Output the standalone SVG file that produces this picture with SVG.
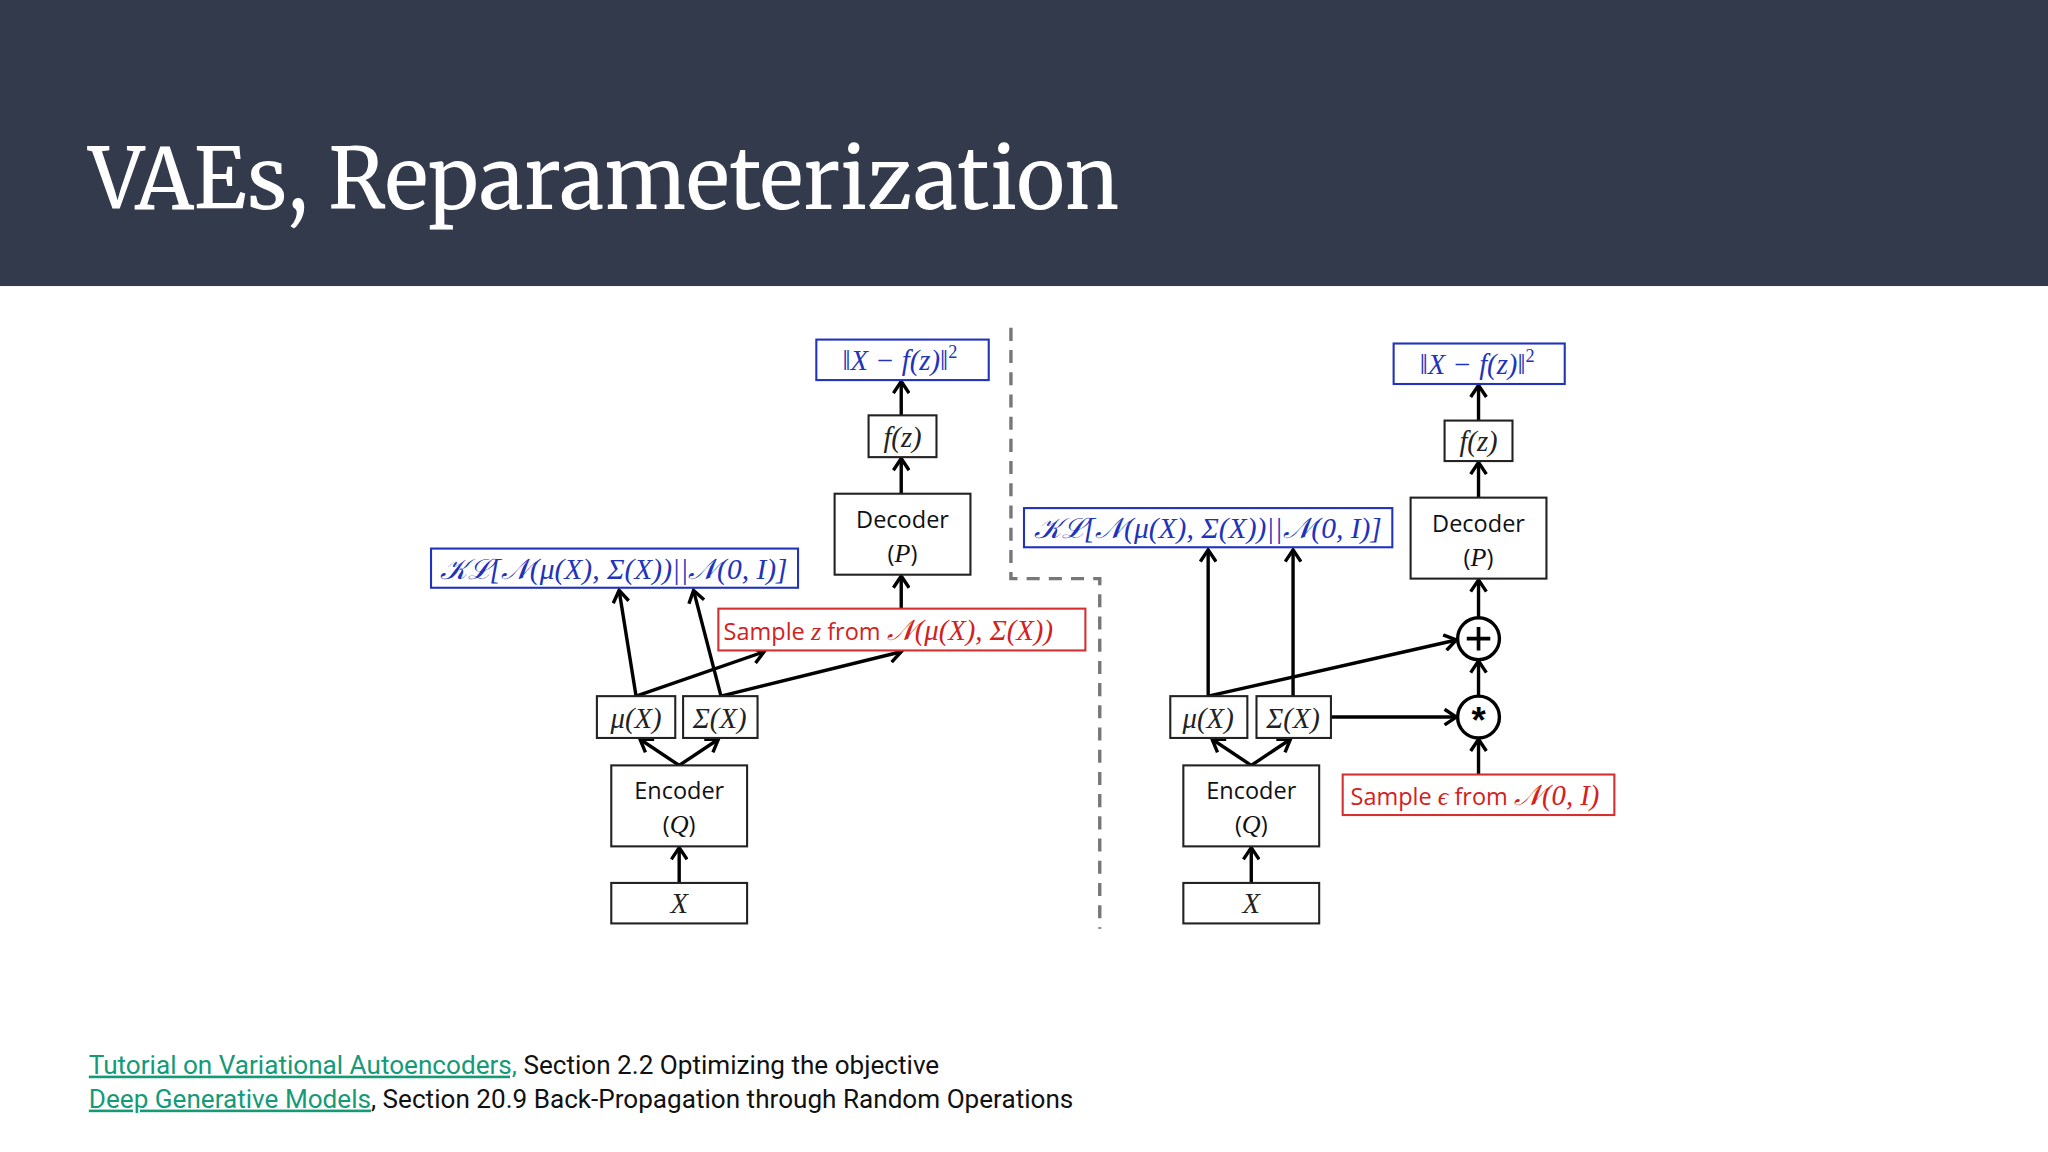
<svg xmlns="http://www.w3.org/2000/svg" width="2048" height="1152" viewBox="0 0 2048 1152">
<defs>
<marker id="ah" viewBox="-10 -7 12 14" markerWidth="12" markerHeight="14" refX="0" refY="0" orient="auto" markerUnits="userSpaceOnUse">
<path d="M-9,-6 L0,0 L-9,6" fill="none" stroke="#000" stroke-width="2.6"/>
</marker>
<style>
.bx{fill:#fff;stroke:#222;stroke-width:1.6}
.bb{fill:#fff;stroke:#2233bb;stroke-width:1.6}
.rb{fill:#fff;stroke:#d43030;stroke-width:1.6}
.m{font-family:"Liberation Serif",serif;font-style:italic;font-size:22px;fill:#222;text-anchor:middle}
.mb{fill:#2233bb}
.mr{fill:#d42020}
.s{font-family:"Open Sans","Liberation Sans",sans-serif;font-size:18px;fill:#111;text-anchor:middle}
.c line{stroke:#000;stroke-width:2.6;marker-end:url(#ah)}
.dash{fill:none;stroke:#777;stroke-width:2.6;stroke-dasharray:10,7}
.ft{font-family:Roboto,"Liberation Sans",sans-serif;font-size:20px;fill:#111}
.lk{fill:#159a78;text-decoration:underline}
</style>
</defs>
<rect width="2048" height="1152" fill="#fff"/>
<g transform="scale(1.30612)">
<rect width="1568" height="219" fill="#333a4c"/>
<text x="68" y="160" font-family="Merriweather,'Liberation Serif',serif" font-size="64" fill="#fff" textLength="789" lengthAdjust="spacingAndGlyphs">VAEs, Reparameterization</text>

<path class="dash" d="M774,251 V443 H842 V711"/>

<g class="c" id="connectors">
<line x1="520" y1="676" x2="520" y2="649"/>
<line x1="520" y1="586" x2="490" y2="566"/>
<line x1="520" y1="586" x2="550" y2="566"/>
<line x1="487" y1="533" x2="474" y2="452"/>
<line x1="487" y1="533" x2="585" y2="499"/>
<line x1="552" y1="533" x2="531" y2="452"/>
<line x1="552" y1="533" x2="690" y2="499"/>
<line x1="690" y1="466" x2="690" y2="441"/>
<line x1="690" y1="378" x2="690" y2="351"/>
<line x1="690" y1="318" x2="690" y2="292"/>

<line x1="958" y1="676" x2="958" y2="649"/>
<line x1="958" y1="586" x2="928" y2="566"/>
<line x1="958" y1="586" x2="988" y2="566"/>
<line x1="925" y1="533" x2="925" y2="421"/>
<line x1="925" y1="533" x2="1115" y2="490"/>
<line x1="990" y1="533" x2="990" y2="421"/>
<line x1="1019" y1="549" x2="1115" y2="549"/>
<line x1="1132" y1="593" x2="1132" y2="566"/>
<line x1="1132" y1="533" x2="1132" y2="506"/>
<line x1="1132" y1="473" x2="1132" y2="444"/>
<line x1="1132" y1="381" x2="1132" y2="354"/>
<line x1="1132" y1="322" x2="1132" y2="295"/>
</g>

<g id="L-loss"><rect class="bb" x="625" y="260" width="132" height="31"/><text class="m mb" x="689" y="283">‖X − f(z)‖<tspan font-style="normal" font-size="14" dy="-9">2</tspan></text></g>
<g id="L-fz"><rect class="bx" x="665" y="318" width="52" height="32"/><text class="m" x="691" y="342">f(z)</text></g>
<g id="L-dec"><rect class="bx" x="639" y="378" width="104" height="62"/><text class="s" x="691" y="404">Decoder</text><text class="s" x="691" y="430">(<tspan font-family="Liberation Serif" font-style="italic" font-size="20">P</tspan>)</text></g>
<g id="L-kl"><rect class="bb" x="330" y="420" width="281" height="30"/><text class="m mb" x="470" y="443" textLength="266" lengthAdjust="spacingAndGlyphs">𝒦ℒ[𝒩(μ(X), Σ(X))||𝒩(0, I)]</text></g>
<g id="L-sample"><rect class="rb" x="550" y="466" width="281" height="32"/><text x="554" y="490" font-family="'Open Sans','Liberation Sans',sans-serif" font-size="18" fill="#d42020">Sample <tspan font-family="Liberation Serif" font-style="italic" font-size="20">z</tspan> from <tspan font-family="Liberation Serif" font-style="italic" font-size="22">𝒩(μ(X), Σ(X))</tspan></text></g>
<g id="L-mu"><rect class="bx" x="457" y="533" width="60" height="32"/><text class="m" x="487" y="557">μ(X)</text></g>
<g id="L-sig"><rect class="bx" x="523" y="533" width="57" height="32"/><text class="m" x="551" y="557">Σ(X)</text></g>
<g id="L-enc"><rect class="bx" x="468" y="586" width="104" height="62"/><text class="s" x="520" y="612">Encoder</text><text class="s" x="520" y="638">(<tspan font-family="Liberation Serif" font-style="italic" font-size="20">Q</tspan>)</text></g>
<g id="L-x"><rect class="bx" x="468" y="676" width="104" height="31"/><text class="m" x="520" y="699">X</text></g>

<g id="R-loss"><rect class="bb" x="1067" y="263" width="131" height="31"/><text class="m mb" x="1131" y="286">‖X − f(z)‖<tspan font-style="normal" font-size="14" dy="-9">2</tspan></text></g>
<g id="R-fz"><rect class="bx" x="1106" y="322" width="52" height="31"/><text class="m" x="1132" y="345">f(z)</text></g>
<g id="R-dec"><rect class="bx" x="1080" y="381" width="104" height="62"/><text class="s" x="1132" y="407">Decoder</text><text class="s" x="1132" y="433">(<tspan font-family="Liberation Serif" font-style="italic" font-size="20">P</tspan>)</text></g>
<g id="R-kl"><rect class="bb" x="784" y="389" width="282" height="30"/><text class="m mb" x="925" y="412" textLength="266" lengthAdjust="spacingAndGlyphs">𝒦ℒ[𝒩(μ(X), Σ(X))||𝒩(0, I)]</text></g>
<g id="R-plus"><circle cx="1132" cy="489" r="16" fill="#fff" stroke="#000" stroke-width="2.6"/><path d="M1132,480 V498 M1123,489 H1141" stroke="#000" stroke-width="2.8"/></g>
<g id="R-star"><circle cx="1132" cy="549" r="16" fill="#fff" stroke="#000" stroke-width="2.6"/><text x="1132" y="561" font-family="'Liberation Sans',sans-serif" font-weight="bold" font-size="28" text-anchor="middle">*</text></g>
<g id="R-mu"><rect class="bx" x="896" y="533" width="59" height="32"/><text class="m" x="925" y="557">μ(X)</text></g>
<g id="R-sig"><rect class="bx" x="962" y="533" width="57" height="32"/><text class="m" x="990" y="557">Σ(X)</text></g>
<g id="R-enc"><rect class="bx" x="906" y="586" width="104" height="62"/><text class="s" x="958" y="612">Encoder</text><text class="s" x="958" y="638">(<tspan font-family="Liberation Serif" font-style="italic" font-size="20">Q</tspan>)</text></g>
<g id="R-x"><rect class="bx" x="906" y="676" width="104" height="31"/><text class="m" x="958" y="699">X</text></g>
<g id="R-sample"><rect class="rb" x="1028" y="593" width="208" height="31"/><text x="1034" y="616" font-family="'Open Sans','Liberation Sans',sans-serif" font-size="18" fill="#d42020">Sample <tspan font-family="Liberation Serif" font-style="italic" font-size="20">ϵ</tspan> from <tspan font-family="Liberation Serif" font-style="italic" font-size="22">𝒩(0, I)</tspan></text></g>

<text class="ft" x="68" y="822"><tspan class="lk">Tutorial on Variational Autoencoders,</tspan> Section 2.2 Optimizing the objective</text>
<text class="ft" x="68" y="848"><tspan class="lk">Deep Generative Models</tspan>, Section 20.9 Back-Propagation through Random Operations</text>
</g>
</svg>
